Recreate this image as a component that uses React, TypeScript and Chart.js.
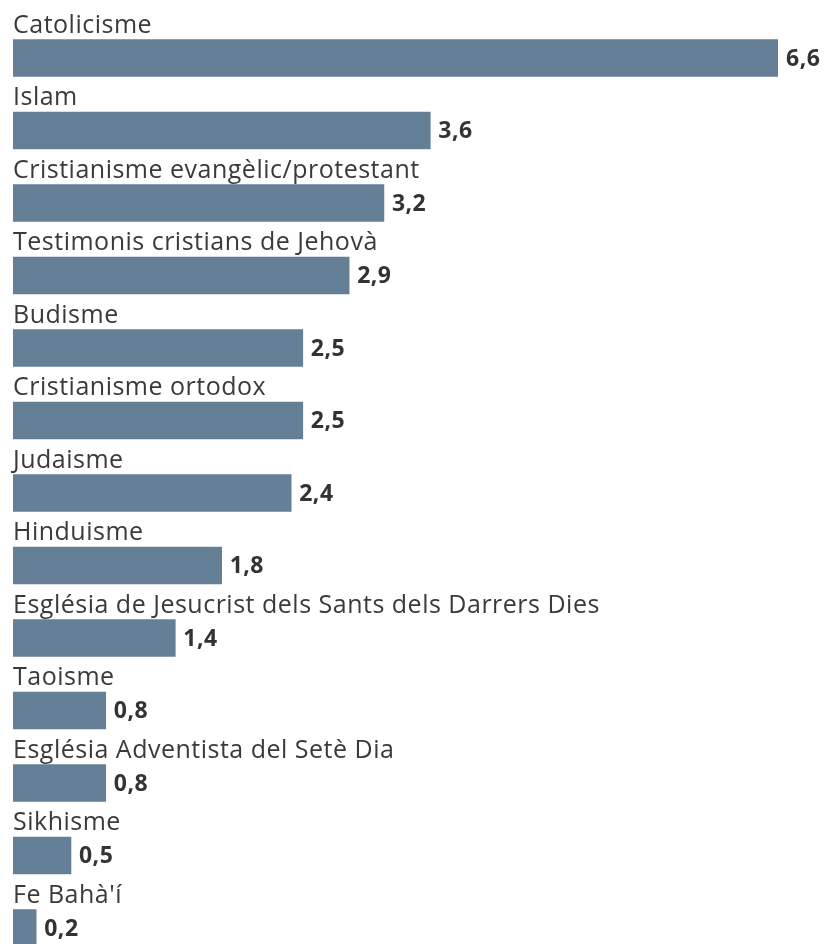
import React, { useEffect, useRef } from "react";
import { Chart, registerables } from "chart.js";

Chart.register(...registerables);

const categories = [
  "Catolicisme",
  "Islam",
  "Cristianisme evangèlic/protestant",
  "Testimonis cristians de Jehovà",
  "Budisme",
  "Cristianisme ortodox",
  "Judaisme",
  "Hinduisme",
  "Església de Jesucrist dels Sants dels Darrers Dies",
  "Taoisme",
  "Església Adventista del Setè Dia",
  "Sikhisme",
  "Fe Bahà'í",
];

const values = [6.6, 3.6, 3.2, 2.9, 2.5, 2.5, 2.4, 1.8, 1.4, 0.8, 0.8, 0.5, 0.2];

const valueLabels = ["6,6", "3,6", "3,2", "2,9", "2,5", "2,5", "2,4", "1,8", "1,4", "0,8", "0,8", "0,5", "0,2"];

const FONT = "'Source Sans Pro', 'Open Sans', sans-serif";

const labelPlugin = {
  id: "labelPlugin",
  afterDatasetsDraw(chart: any) {
    const ctx = chart.ctx;
    const meta = chart.getDatasetMeta(0);
    const left = chart.chartArea.left;
    ctx.save();
    meta.data.forEach((bar: any, i: number) => {
      const top = bar.y - bar.height / 2;
      ctx.font = `400 25px ${FONT}`;
      (ctx as any).letterSpacing = "0.5px";
      ctx.fillStyle = "#3a3a3a";
      ctx.textAlign = "left";
      ctx.textBaseline = "alphabetic";
      ctx.fillText(categories[i], left, top - 7);
      ctx.font = `700 23px ${FONT}`;
      (ctx as any).letterSpacing = "0.5px";
      ctx.fillStyle = "#333333";
      ctx.textBaseline = "middle";
      ctx.fillText(valueLabels[i], bar.x + 8, bar.y + 1);
    });
    (ctx as any).letterSpacing = "0px";
    ctx.restore();
  },
};

export default function App() {
  const ref = useRef<HTMLCanvasElement>(null);
  useEffect(() => {
    if (!ref.current) return;
    const chart = new Chart(ref.current, {
      type: "bar",
      data: {
        labels: categories,
        datasets: [
          {
            data: values,
            backgroundColor: "#657f96",
            borderWidth: 0,
            barThickness: 37,
          },
        ],
      },
      options: {
        indexAxis: "y",
        animation: false,
        responsive: false,
        maintainAspectRatio: false,
        events: [],
        layout: { padding: { left: 13, right: 50, top: 21.75, bottom: 5.75 } },
        plugins: { legend: { display: false }, tooltip: { enabled: false } },
        scales: {
          x: { display: false, min: 0, max: 6.6 },
          y: { display: false, offset: true },
        },
      },
      plugins: [labelPlugin],
    });
    return () => chart.destroy();
  }, []);
  return (
    <div
      style={{
        position: "absolute",
        left: 0,
        top: 0,
        width: 828,
        height: 944,
        overflow: "hidden",
        background: "#ffffff",
      }}
    >
      <canvas ref={ref} width={828} height={970} style={{ display: "block", width: 828, height: 970 }} />
    </div>
  );
}
